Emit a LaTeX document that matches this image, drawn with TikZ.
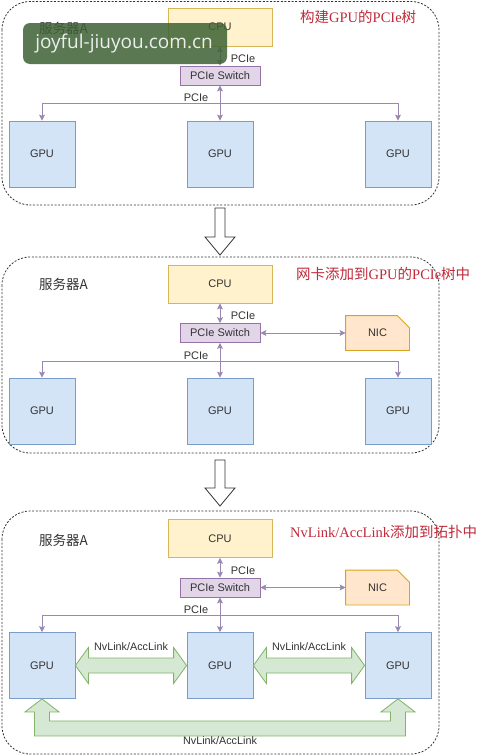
\documentclass[tikz,border=0pt]{standalone}
\usepackage{fontspec}
\setmainfont{Liberation Sans}
\newfontfamily\cjk{Noto Sans CJK SC}
\newfontfamily\titlefont{Liberation Serif}
\newfontfamily\wmfont{Open Sans}
\usetikzlibrary{calc,arrows.meta}
\definecolor{txt}{HTML}{333333}
\definecolor{cpuF}{HTML}{FFF2CC}
\definecolor{cpuD}{HTML}{D6B656}
\definecolor{swF}{HTML}{E1D5E7}
\definecolor{swD}{HTML}{9673A6}
\definecolor{gpuF}{HTML}{D4E4F7}
\definecolor{gpuD}{HTML}{7A9CC6}
\definecolor{nicF}{HTML}{FFE6CC}
\definecolor{nicD}{HTML}{D9A520}
\definecolor{nvF}{HTML}{D5E8D4}
\definecolor{nvD}{HTML}{82B366}
\definecolor{lnk}{HTML}{9A88B0}
\definecolor{red}{HTML}{C02A3A}
\definecolor{wmF}{HTML}{3E6234}
\begin{document}
\begin{tikzpicture}[x=1pt,y=-1pt,
  box/.style={draw, line width=0.8pt, inner sep=0pt, font=\fontsize{11}{13}\selectfont, text=txt},
  cpu/.style={box, fill=cpuF, draw=cpuD, minimum width=104pt, minimum height=38pt},
  sw/.style={box, fill=swF, draw=swD, minimum width=80pt, minimum height=19pt},
  gpu/.style={box, fill=gpuF, draw=gpuD, minimum width=66pt, minimum height=66pt},
  nic/.style={box, draw=none, minimum width=63pt, minimum height=34pt},
  nicshape/.style={fill=nicF, draw=nicD, line width=0.8pt},
  panel/.style={draw=txt, line width=0.8pt, dash pattern=on 2pt off 1.6pt, rounded corners=28pt},
  conn/.style={draw=lnk, line width=0.9pt},
  one/.style={conn, -{Stealth[length=6pt,width=6pt,inset=1.2pt]}},
  both/.style={conn, {Stealth[length=6pt,width=6pt,inset=1.2pt]}-{Stealth[length=6pt,width=6pt,inset=1.2pt]}},
  lbl/.style={inner sep=0pt, font=\fontsize{11}{13}\selectfont, text=txt},
  nvlbl/.style={inner sep=0pt, font=\fontsize{10.8}{12}\selectfont, text=txt},
  srv/.style={inner sep=0pt, anchor=west, font=\cjk\fontsize{13.5}{15}\selectfont, text=txt},
  ttl/.style={inner sep=0pt, anchor=west, font=\fontsize{14.5}{16}\selectfont, text=red},
  nvl/.style={fill=nvF, draw=nvD, line width=0.8pt},
  hollow/.style={fill=white, draw=txt, line width=0.8pt, line join=miter},
]
\useasboundingbox (0,0) rectangle (488,755);
\fill[white] (0,0) rectangle (488,755);

% ---------------- panels ----------------
\draw[panel] (2,1.5) rectangle (439,205);
\draw[panel] (2,257) rectangle (439,453);
\draw[panel] (2,511) rectangle (439,754);

% ---------------- panel 1 ----------------
\node[cpu] (c1) at (220,27) {CPU};
\node[sw] (s1) at (220,75.5) {PCIe Switch};
\node[gpu] (g11) at (42,154) {GPU};
\node[gpu] (g12) at (220,154) {GPU};
\node[gpu] (g13) at (398,154) {GPU};
\coordinate (bus1) at (220,103);
\draw[both] (c1) -- (s1);
\draw[both] (s1) -- (g12);
\draw[one] (bus1) -| (g11.north);
\draw[one] (bus1) -| (g13.north);
\node[lbl] (p11) at (243,59) {PCIe};
\node[lbl] (p12) at (196,98) {PCIe};
\node[srv] (v1) at (39,28) {服务器A};
\node[ttl] (t1) at (300,17) {{\cjk 构建}{\titlefont GPU}{\cjk 的}{\titlefont PCIe}{\cjk 树}};

% ---------------- panel 2 ----------------
\node[cpu] (c2) at (220,284) {CPU};
\node[sw] (s2) at (220,333) {PCIe Switch};
\node[nic] (n2) at (377.5,333) {};
\draw[nicshape] (n2.south west) -- (n2.north west) -- ($(n2.north east)+(-12,0)$) -- ($(n2.north east)+(0,12)$) -- (n2.south east) -- cycle;
\node[lbl] (nt2) at (n2) {NIC};
\node[gpu] (g21) at (42,411) {GPU};
\node[gpu] (g22) at (220,411) {GPU};
\node[gpu] (g23) at (398,411) {GPU};
\coordinate (bus2) at (220,361);
\draw[both] (c2) -- (s2);
\draw[both] (s2) -- (g22);
\draw[both] (s2) -- (n2);
\draw[one] (bus2) -| (g21.north);
\draw[one] (bus2) -| (g23.north);
\node[lbl] (p21) at (243,316) {PCIe};
\node[lbl] (p22) at (196,355.5) {PCIe};
\node[srv] (v2) at (39,284) {服务器A};
\node[ttl] (t2) at (296,274) {{\cjk 网卡添加到}{\titlefont GPU}{\cjk 的}{\titlefont PCIe}{\cjk 树中}};

% ---------------- panel 3 ----------------
\node[cpu] (c3) at (220,538.5) {CPU};
\node[sw] (s3) at (220,587.5) {PCIe Switch};
\node[nic] (n3) at (377.5,587.5) {};
\draw[nicshape] (n3.south west) -- (n3.north west) -- ($(n3.north east)+(-12,0)$) -- ($(n3.north east)+(0,12)$) -- (n3.south east) -- cycle;
\node[lbl] (nt3) at (n3) {NIC};
\node[gpu] (g31) at (42,665.5) {GPU};
\node[gpu] (g32) at (220,665.5) {GPU};
\node[gpu] (g33) at (398,665.5) {GPU};
\coordinate (bus3) at (220,615);
\draw[both] (c3) -- (s3);
\draw[both] (s3) -- (g32);
\draw[both] (s3) -- (n3);
\draw[one] (bus3) -| (g31.north);
\draw[one] (bus3) -| (g33.north);
\node[lbl] (p31) at (243,571) {PCIe};
\node[lbl] (p32) at (196,610) {PCIe};
\node[srv] (v3) at (39,540) {服务器A};
\node[ttl] (t3) at (290,532) {{\titlefont NvLink/AccLink}{\cjk 添加到拓扑中}};

% NvLink fat arrows between neighbours
\draw[nvl] (g31.east) -- ($(g31.east)+(13,-18)$) -- ($(g31.east)+(13,-7.5)$) -- ($(g32.west)+(-13,-7.5)$) -- ($(g32.west)+(-13,-18)$) -- (g32.west) -- ($(g32.west)+(-13,18)$) -- ($(g32.west)+(-13,7.5)$) -- ($(g31.east)+(13,7.5)$) -- ($(g31.east)+(13,18)$) -- cycle;
\draw[nvl] (g32.east) -- ($(g32.east)+(13,-18)$) -- ($(g32.east)+(13,-7.5)$) -- ($(g33.west)+(-13,-7.5)$) -- ($(g33.west)+(-13,-18)$) -- (g33.west) -- ($(g33.west)+(-13,18)$) -- ($(g33.west)+(-13,7.5)$) -- ($(g32.east)+(13,7.5)$) -- ($(g32.east)+(13,18)$) -- cycle;
\node[nvlbl] (nv1) at (131,647) {NvLink/AccLink};
\node[nvlbl] (nv2) at (309,647) {NvLink/AccLink};

% NvLink U-shaped arrow under the GPUs
\draw[nvl] (g31.south) -- ($(g31.south)+(17,13)$) -- ($(g31.south)+(7.5,13)$) -- ($(g31.south)+(7.5,22)$) -- ($(g33.south)+(-7.5,22)$) -- ($(g33.south)+(-7.5,13)$) -- ($(g33.south)+(-17,13)$) -- (g33.south) -- ($(g33.south)+(17,13)$) -- ($(g33.south)+(7.5,13)$) -- ($(g33.south)+(7.5,37)$) -- ($(g31.south)+(-7.5,37)$) -- ($(g31.south)+(-7.5,13)$) -- ($(g31.south)+(-17,13)$) -- cycle;
\node[nvlbl] (nv3) at (220,741) {NvLink/AccLink};

% ---------------- hollow arrows between panels ----------------
\draw[hollow] (215,208) -- (225,208) -- (225,237) -- (235,237) -- (220,255) -- (205,237) -- (215,237) -- cycle;
\draw[hollow] (215,460) -- (225,460) -- (225,488) -- (235,488) -- (220,506) -- (205,488) -- (215,488) -- cycle;

% ---------------- watermark ----------------
\fill[wmF, opacity=0.85, rounded corners=7pt] (23,23) rectangle (227,64);
\node[inner sep=0pt, text=white!93!black, font=\wmfont\fontsize{19}{21}\selectfont] (wm) at (124,44) {joyful-jiuyou.com.cn};
\end{tikzpicture}
\end{document}
